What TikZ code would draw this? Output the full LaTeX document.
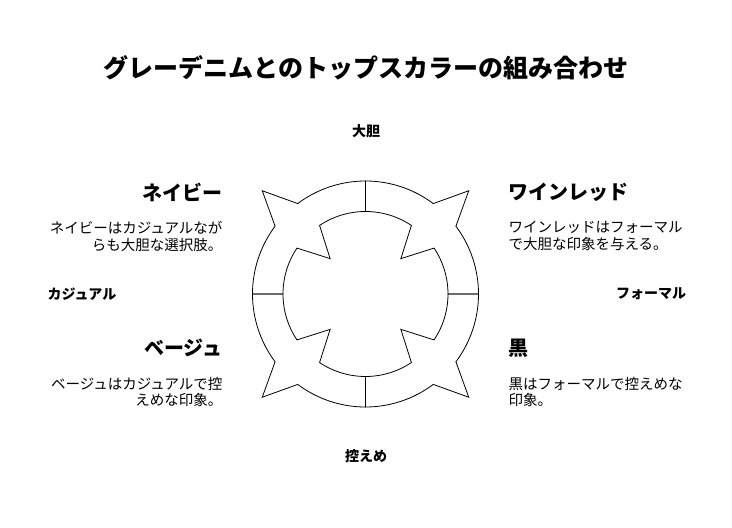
\documentclass[tikz,border=0pt]{standalone}
\usepackage{fontspec}
\setmainfont{Noto Sans CJK JP}
\usetikzlibrary{positioning}

\tikzset{
  headline/.style={font=\bfseries\fontsize{25}{28}\selectfont},
  axislabel/.style={font=\bfseries\fontsize{14}{16}\selectfont},
  colorname/.style={font=\bfseries\fontsize{20}{24}\selectfont},
  colornote/.style={font=\fontsize{14.5}{16.5}\selectfont},
  ringpart/.style={draw=black, line width=0.8pt}
}

\begin{document}
\begin{tikzpicture}[x=1pt,y=1pt]
            \useasboundingbox (0,0) rectangle (732,528);
            \coordinate (hub) at (365.5,234);
            % ring of four parts
            \begin{scope}[shift={(hub)}]
            \foreach \a in {45,135,225,315}{
                \draw[ringpart] (\a-45:113pt) arc[start angle=\a-45, end angle=\a-8.14, radius=113pt] -- (\a:146pt) -- (\a+8.14:113pt) arc[start angle=\a+8.14, end angle=\a+45, radius=113pt] -- (\a+45:82.5pt) arc[start angle=\a+45, end angle=\a+11.18, radius=82.5pt] -- (\a:50pt) -- (\a-11.18:82.5pt) arc[start angle=\a-11.18, end angle=\a-45, radius=82.5pt] -- cycle;
            }
            \end{scope}
            \node[headline] (title) at (366,460) {グレーデニムとのトップスカラーの組み合わせ};
            % axis labels
            \node[axislabel] (bold) at (366,397) {大胆};
            \node[axislabel] (calm) at (366,72) {控えめ};
            \node[axislabel] (casual) at (82,234) {カジュアル};
            \node[axislabel] (formal) at (651,234) {フォーマル};
            % colours
            \node[colorname, anchor=east] (navy) at (226,336) {ネイビー};
            \node[colornote, align=right, below=13pt of navy.south east, anchor=north east] (navynote) {ネイビーはカジュアルなが\\らも大胆な選択肢。};
            \node[colorname, anchor=west] (wine) at (505,336) {ワインレッド};
            \node[colornote, align=left, below=13pt of wine.south west, anchor=north west] (winenote) {ワインレッドはフォーマル\\で大胆な印象を与える。};
            \node[colorname, anchor=east] (beige) at (226,180) {ベージュ};
            \node[colornote, align=right, below=13pt of beige.south east, anchor=north east] (beigenote) {ベージュはカジュアルで控\\えめな印象。};
            \node[colorname, anchor=west] (black) at (505,180) {黒};
            \node[colornote, align=left, below=13pt of black.south west, anchor=north west] (blacknote) {黒はフォーマルで控えめな\\印象。};
\end{tikzpicture}
\end{document}
